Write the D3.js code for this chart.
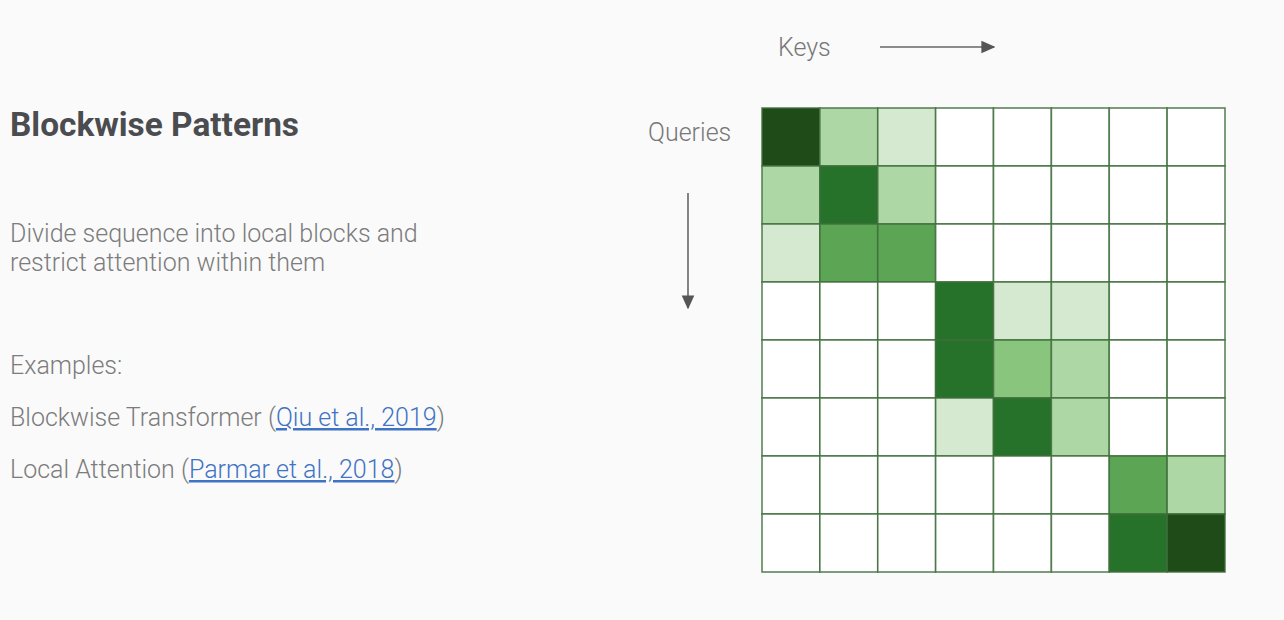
<!DOCTYPE html>
<html><head><meta charset="utf-8">
<script src="https://cdn.jsdelivr.net/npm/d3@7"></script>
<style>html,body{margin:0;padding:0;background:#fafafa;}</style>
</head><body>
<svg id="c" width="1284" height="620"></svg>
<script>
const keys = [0,1,2,3,4,5,6,7];
const queries = [0,1,2,3,4,5,6,7];
// attention intensity levels (0 = none, 5 = strongest)
const row0 = [5,2,1,0,0,0,0,0];
const row1 = [2,4,2,0,0,0,0,0];
const row2 = [1,3,3,0,0,0,0,0];
const row3 = [0,0,0,4,1,1,0,0];
const row4 = [0,0,0,4,2.5,2,0,0];
const row5 = [0,0,0,1,4,2,0,0];
const row6 = [0,0,0,0,0,0,3,2];
const row7 = [0,0,0,0,0,0,4,5];
const levels = [0,1,2,2.5,3,4,5];
const levelColors = ["#ffffff","#d4e9cf","#aed7a6","#8ac57e","#5ba555","#27722a","#1e4b18"];
const title = "Blockwise Patterns";
const descLines = ["Divide sequence into local blocks and","restrict attention within them"];
const examplesLabel = "Examples:";
const examples = [
  {pre:"Blockwise Transformer (", link:"Qiu et al., 2019", post:")"},
  {pre:"Local Attention (", link:"Parmar et al., 2018", post:")"}
];

const rows = [row0,row1,row2,row3,row4,row5,row6,row7];
const cells = [];
rows.forEach((r,i)=>r.forEach((v,j)=>cells.push({q:queries[i],k:keys[j],v})));

const svg = d3.select("#c");
const x = d3.scaleBand().domain(keys).range([762,1225]);
const y = d3.scaleBand().domain(queries).range([108,572]);
const color = d3.scaleOrdinal().domain(levels).range(levelColors);

const font = "Roboto, 'Open Sans', sans-serif";
const bodySize = 25;

svg.append("g").selectAll("rect").data(cells).join("rect")
  .attr("x",d=>x(d.k)).attr("y",d=>y(d.q))
  .attr("width",x.bandwidth()).attr("height",y.bandwidth())
  .attr("fill",d=>color(d.v))
  .attr("stroke","#3f6e3c").attr("stroke-opacity",0.85).attr("stroke-width",1.6);

// arrows
const defs = svg.append("defs");
defs.append("marker").attr("id","ah").attr("viewBox","0 0 10 10")
  .attr("refX",9).attr("refY",5).attr("markerWidth",14).attr("markerHeight",14)
  .attr("markerUnits","userSpaceOnUse").attr("orient","auto")
  .append("path").attr("d","M0,0.5 L10,5 L0,9.5 z").attr("fill","#555");

svg.append("text").attr("x",778).attr("y",55.5).text("Keys")
  .attr("font-family",font).attr("font-weight",300).attr("font-size",bodySize).attr("fill","#777");
svg.append("line").attr("x1",880).attr("y1",47).attr("x2",994).attr("y2",47)
  .attr("stroke","#666").attr("stroke-width",1.6).attr("marker-end","url(#ah)");

svg.append("text").attr("x",648).attr("y",140.5).text("Queries")
  .attr("font-family",font).attr("font-weight",300).attr("font-size",bodySize).attr("fill","#777");
svg.append("line").attr("x1",688).attr("y1",193).attr("x2",688).attr("y2",308)
  .attr("stroke","#666").attr("stroke-width",1.6).attr("marker-end","url(#ah)");

// left text
svg.append("text").attr("x",10).attr("y",135.5).text(title)
  .attr("font-family",font).attr("font-weight",700).attr("font-size",33.4).attr("fill","#4a4c50");

svg.append("g").selectAll("text").data(descLines).join("text")
  .attr("x",10).attr("y",(d,i)=>241.5+i*29).text(d=>d)
  .attr("font-family",font).attr("font-weight",300).attr("font-size",bodySize).attr("fill","#7c7c7c");

svg.append("text").attr("x",10).attr("y",373.5).text(examplesLabel)
  .attr("font-family",font).attr("font-weight",300).attr("font-size",bodySize).attr("fill","#7c7c7c");

examples.forEach((e,i)=>{
  const t = svg.append("text").attr("x",10).attr("y",426+i*52)
    .attr("font-family",font).attr("font-weight",300).attr("font-size",bodySize).attr("fill","#7c7c7c");
  t.append("tspan").text(e.pre);
  t.append("tspan").text(e.link).attr("fill","#3f73c3").attr("text-decoration","underline");
  t.append("tspan").text(e.post);
});
</script>
</body></html>
